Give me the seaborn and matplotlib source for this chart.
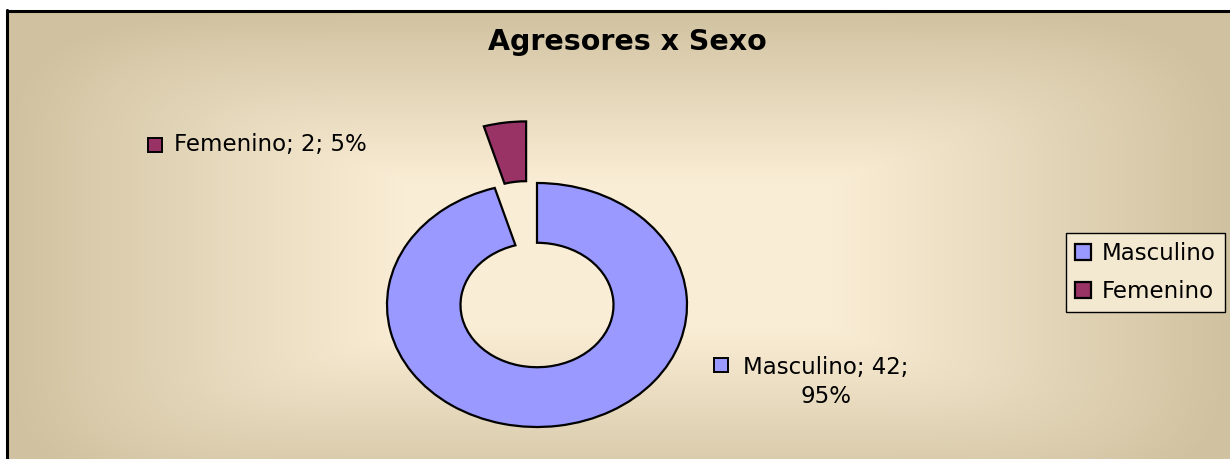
import numpy as np
import seaborn as sns
import matplotlib.pyplot as plt
from matplotlib.colors import to_rgb

# data
names = ['Masculino', 'Femenino']
counts = [42, 2]
colors = ['#9999FF', '#993366']
title = 'Agresores x Sexo'

sns.set_style('white')
plt.rcParams['font.family'] = ['DejaVu Sans']
plt.rcParams['text.color'] = 'black'

W, H = 1230, 459
fig = plt.figure(figsize=(W / 100, H / 100), dpi=100)
fig.patch.set_facecolor('white')


def fx(x):
    return x / W


def fy(y):
    return 1 - y / H


# parchment-like background inside the chart frame
left, top = 7, 10
bg = fig.add_axes([fx(left), 0, 1 - fx(left), fy(top)], zorder=-2)
gh, gw = H - top, W - left
yy, xx = np.mgrid[0:gh, 0:gw]
cx, cy = 611, 245
u = np.clip((np.abs(xx - cx) / 612 - 0.35) / 0.65, 0, 1)
v = np.clip((np.abs(yy - cy) / 245 - 0.3) / 0.7, 0, 1)
t = np.clip((u ** 4 + v ** 4) ** 0.25, 0, 1)
c0 = np.array(to_rgb('#FAEDD5'))
c1 = np.array(to_rgb('#D0C2A0'))
grad = c0 + (c1 - c0) * t[..., None]
bg.imshow(grad, aspect='auto', interpolation='bilinear')
bg.axis('off')

# frame lines (left and top)
fig.add_artist(plt.Line2D([fx(7), fx(7)], [0, fy(10)], color='black', lw=2.2))
fig.add_artist(plt.Line2D([fx(7), 1], [fy(10.5), fy(10.5)], color='black', lw=2.2))

# doughnut
ax = fig.add_axes([0, 0, 1, 1])
ax.patch.set_alpha(0)
wedges, _ = ax.pie(counts, colors=colors, startangle=90, counterclock=False,
                   explode=[0, 0.51], radius=1,
                   wedgeprops=dict(width=0.49, edgecolor='black', linewidth=1.6))
ax.set_aspect('auto')
ax.set_xlim(-537 / 150, (W - 537) / 150)
ax.set_ylim((305 - H) / 122, 305 / 122)
ax.axis('off')

fig.text(fx(627), fy(50), title, ha='center', va='baseline',
         fontsize=20.5, fontweight='bold')

# data labels
total = sum(counts)
pct = [100 * c / total for c in counts]
lab_m = f'{names[0]}; {counts[0]};\n{pct[0]:.0f}%'
lab_f = f'{names[1]}; {counts[1]}; {pct[1]:.0f}%'

fig.text(fx(826), fy(403), lab_m, ha='center', va='baseline',
         fontsize=16.5, linespacing=1.35)
fig.text(fx(174), fy(151), lab_f, ha='left', va='baseline', fontsize=16.5)

for (x, y), col in [((721, 365), colors[0]), ((155, 145), colors[1])]:
    fig.add_artist(plt.Rectangle((fx(x - 7), fy(y + 7)), 14 / W, 14 / H,
                                 facecolor=col, edgecolor='black', lw=1.4,
                                 transform=fig.transFigure))

leg = fig.legend(wedges, names, loc='upper left',
                 bbox_to_anchor=(fx(1066), fy(233)), borderaxespad=0,
                 frameon=True, fancybox=False, edgecolor='black',
                 facecolor='#F3E8D0', framealpha=1, fontsize=16.5,
                 handlelength=0.7, handleheight=0.7, handletextpad=0.45,
                 labelspacing=0.65, borderpad=0.4)
leg.get_frame().set_linewidth(1)

fig.savefig('out.png', dpi=100)
